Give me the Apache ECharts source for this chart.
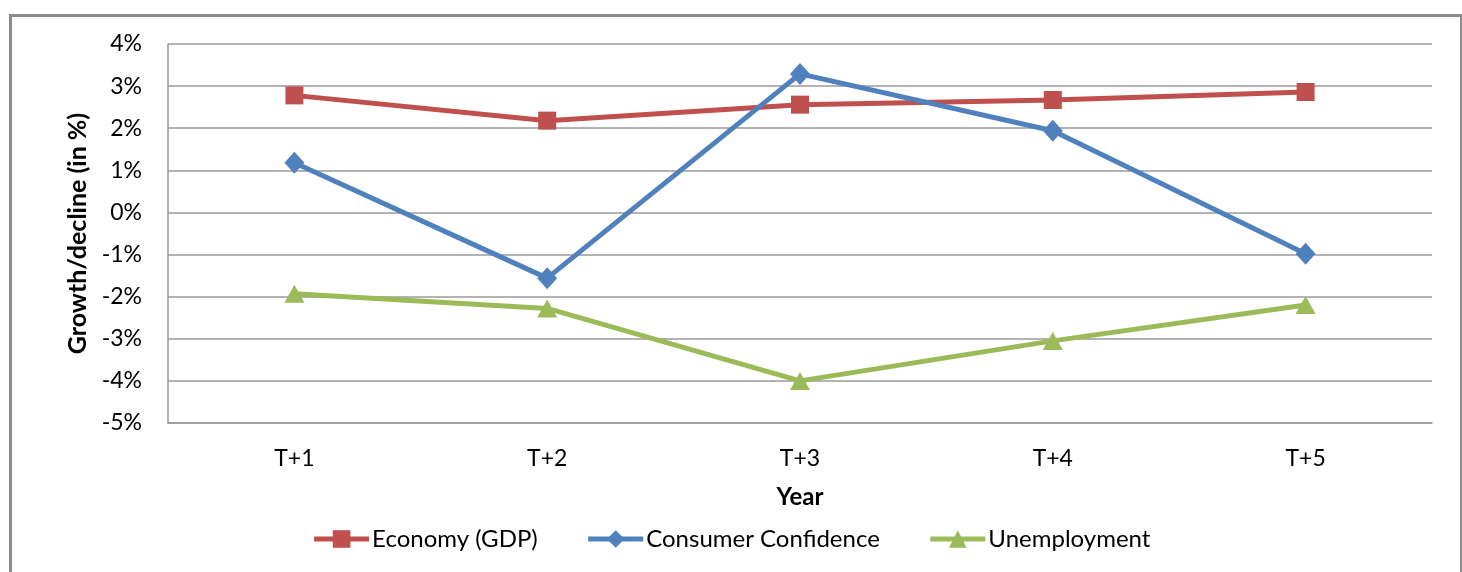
<!DOCTYPE html>
<html>
<head>
<meta charset="utf-8">
<script src="https://cdn.jsdelivr.net/npm/echarts@6/dist/echarts.min.js"></script>
<style>html,body{margin:0;padding:0;background:#fff}#c{width:1462px;height:572px}</style>
</head>
<body>
<div id="c"></div>
<script>
const categories = ['T+1', 'T+2', 'T+3', 'T+4', 'T+5'];
const gdp = [2.78, 2.18, 2.56, 2.67, 2.86];
const confidence = [1.18, -1.56, 3.29, 1.94, -0.98];
const unemployment = [-1.93, -2.28, -4.0, -3.05, -2.2];
const yTicks = { min: -5, max: 4, interval: 1 };

const FONT = 'Lato';
const chart = echarts.init(document.getElementById('c'));
chart.setOption({
  animation: false,
  backgroundColor: '#fff',
  textStyle: { fontFamily: FONT },
  graphic: [{
    type: 'rect', left: 8, top: 13, silent: true,
    shape: { width: 1451, height: 620 },
    style: { fill: 'none', stroke: '#8c8c8c', lineWidth: 3 }
  }],
  grid: { left: 168, right: 30, top: 44, bottom: 149 },
  legend: {
    bottom: 16, left: 'center',
    itemWidth: 55, itemHeight: 22, itemGap: 48,
    lineStyle: { width: 5 },
    textStyle: { fontFamily: FONT, fontSize: 24, color: '#000', padding: [0, 0, 0, -2] },
    data: ['Economy (GDP)', 'Consumer Confidence', 'Unemployment']
  },
  xAxis: {
    type: 'category', data: categories, boundaryGap: true,
    name: 'Year', nameLocation: 'middle', nameGap: 62,
    nameTextStyle: { fontFamily: FONT, fontSize: 24, fontWeight: 'bold', color: '#000' },
    axisLine: { onZero: false, lineStyle: { color: '#999', width: 1.5 } },
    axisTick: { show: false },
    axisLabel: { fontFamily: FONT, fontSize: 23, color: '#000', margin: 24 }
  },
  yAxis: {
    type: 'value', min: yTicks.min, max: yTicks.max, interval: yTicks.interval,
    name: 'Growth/decline (in %)', nameLocation: 'middle', nameGap: 76,
    nameTextStyle: { fontFamily: FONT, fontSize: 25, fontWeight: 'bold', color: '#000' },
    axisLine: { show: true, lineStyle: { color: '#999', width: 1.5 } },
    axisTick: { show: false },
    splitLine: { lineStyle: { color: '#9a9a9a', width: 1.5 } },
    axisLabel: { fontFamily: FONT, fontSize: 23, color: '#000', margin: 26, formatter: v => v + '%' }
  },
  series: [
    { name: 'Economy (GDP)', type: 'line', data: gdp, symbol: 'rect', symbolSize: 18,
      lineStyle: { width: 5, color: '#C0504D' }, itemStyle: { color: '#C0504D' } },
    { name: 'Consumer Confidence', type: 'line', data: confidence, symbol: 'diamond', symbolSize: [20, 22],
      lineStyle: { width: 5, color: '#4F81BD' }, itemStyle: { color: '#4F81BD' } },
    { name: 'Unemployment', type: 'line', data: unemployment, symbol: 'triangle', symbolSize: [20, 18],
      lineStyle: { width: 5, color: '#9BBB59' }, itemStyle: { color: '#9BBB59' } }
  ]
});
</script>
</body>
</html>
